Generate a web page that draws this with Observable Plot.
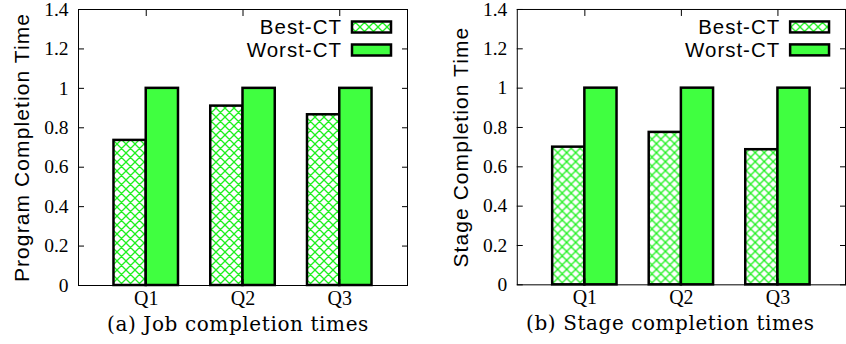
<!DOCTYPE html>
<html><head><meta charset="utf-8">
<script src="https://cdn.jsdelivr.net/npm/d3@7"></script>
<script src="https://cdn.jsdelivr.net/npm/@observablehq/plot@0.6"></script>
<style>
html,body{margin:0;padding:0;background:#fff;overflow:hidden;width:846px;height:344px}
#wrap{position:relative;width:846px;height:344px;overflow:hidden}
#p0{position:absolute;left:0;top:0}
#p1{position:absolute;left:423px;top:0}
</style></head><body><div id="wrap"><div id="p0"></div><div id="p1"></div></div>
<script>
// ---- data ----
const categories = ["Q1", "Q2", "Q3"];
const seriesNames = ["Best-CT", "Worst-CT"];
const jobBest = [0.736, 0.91, 0.866];
const jobWorst = [1, 1, 1];
const stageBest = [0.70, 0.775, 0.687];
const stageWorst = [1, 1, 1];
const yTicks = [0, 0.2, 0.4, 0.6, 0.8, 1, 1.2, 1.4];
const yLabels = ["Program Completion Time", "Stage Completion Time"];
const captions = ["(a) Job completion times", "(b) Stage completion times"];

// ---- style ----
const GREEN = "#40ff40";
const HATCH = "#1ef01e";
const BW = 1 / 3;

function panel(k, best, worst, opts) {
  const pid = "hatch" + k;
  const rowsB = categories.map((c, i) => ({i, v: best[i]}));
  const rowsW = categories.map((c, i) => ({i, v: worst[i]}));
  const xIdx = categories.map((c, i) => i);
  const plot = Plot.plot({
    width: opts.width, height: 344,
    marginLeft: opts.ml, marginRight: opts.mr, marginTop: 9, marginBottom: 59,
    style: {fontFamily: "Liberation Serif", fontSize: "19px", color: "black", background: "white", overflow: "visible"},
    x: {type: "linear", domain: [-0.7, 2.7], label: null},
    y: {domain: [0, 1.4], label: null},
    marks: [
      Plot.rect(rowsB, {x1: d => d.i - BW, x2: d => d.i, y1: 0, y2: "v", fill: `url(#${pid})`, stroke: "black", strokeWidth: 2.5}),
      Plot.rect(rowsW, {x1: d => d.i, x2: d => d.i + BW, y1: 0, y2: "v", fill: GREEN, stroke: "black", strokeWidth: 2.5}),
      Plot.frame({stroke: "black", strokeWidth: 1}),
      // inward ticks
      Plot.axisY(yTicks, {anchor: "left", tickSize: 6, dx: 6, fill: "none", stroke: "black"}),
      Plot.axisY(yTicks, {anchor: "right", tickSize: 6, dx: -6, fill: "none", stroke: "black"}),
      Plot.axisX(xIdx, {anchor: "top", tickSize: 6, dy: 6, fill: "none", stroke: "black"}),
      Plot.axisX(xIdx, {anchor: "bottom", tickSize: 6, dy: -6, fill: "none", stroke: "black"}),
      // labels
      Plot.axisY(yTicks, {anchor: "left", tickSize: 0, tickPadding: 10, tickFormat: d => String(d), fontSize: 19.5}),
      Plot.axisX(xIdx, {anchor: "bottom", tickSize: 0, tickPadding: 5, tickFormat: i => categories[i], fontSize: 20}),
      Plot.text([yLabels[k]], {frameAnchor: "left", textAnchor: "middle", rotate: -90, dx: -56, fontFamily: "Liberation Sans", fontSize: 21}),
      Plot.text([captions[k]], {frameAnchor: "bottom", textAnchor: "middle", dy: 39, dx: opts.capdx, lineAnchor: "middle", fontFamily: "DejaVu Serif", fontSize: 20})
    ]
  });
  const svg = d3.select(plot);
  // hatch pattern
  const defs = svg.insert("defs", ":first-child");
  const pat = defs.append("pattern").attr("id", pid).attr("patternUnits", "userSpaceOnUse")
    .attr("width", 9).attr("height", 9);
  pat.append("rect").attr("width", 9).attr("height", 9).attr("fill", "white");
  pat.append("path").attr("d", "M-1,1L1,-1M0,9L9,0M8,10L10,8M-1,8L1,10M0,0L9,9M8,-1L10,1")
    .attr("stroke", HATCH).attr("stroke-width", 1.3).attr("fill", "none");
  // letter spacing on sans / caption texts
  svg.selectAll('g[font-family="Liberation Sans"]').style("letter-spacing", "1.1px");
  svg.selectAll('g[font-family="DejaVu Serif"]').style("letter-spacing", "0.6px");
  // legend inside the frame (top right)
  const fl = opts.ml, ft = 9;
  const lg = svg.append("g").attr("font-family", "Liberation Sans").attr("font-size", 20.5).style("letter-spacing", "1px");
  seriesNames.forEach((name, j) => {
    const cy = ft + 18 + j * 23;
    lg.append("text").attr("x", fl + 264).attr("y", cy).attr("dy", "0.36em").attr("text-anchor", "end").text(name);
    lg.append("rect").attr("x", fl + 274).attr("y", cy - 5.5).attr("width", 39).attr("height", 11)
      .attr("fill", j === 0 ? `url(#${pid})` : GREEN).attr("stroke", "black").attr("stroke-width", 2.5);
  });
  return plot;
}

document.getElementById("p0").appendChild(panel(0, jobBest, jobWorst, {width: 423, ml: 78, mr: 16, capdx: -5}));
document.getElementById("p1").appendChild(panel(1, stageBest, stageWorst, {width: 424, ml: 94, mr: 1, capdx: -11}));
</script></body></html>
